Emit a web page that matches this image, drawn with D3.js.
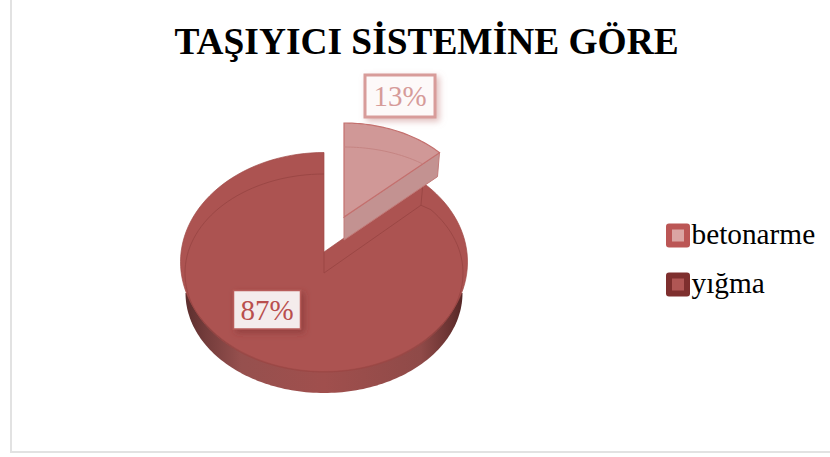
<!DOCTYPE html>
<html><head><meta charset="utf-8">
<script src="https://cdnjs.cloudflare.com/ajax/libs/d3/7.8.5/d3.min.js"></script>
<style>html,body{margin:0;padding:0;background:#fff}svg{display:block}text{font-family:"Liberation Serif",serif}</style>
</head><body><svg id="c" width="830" height="457"></svg>
<script>
const categories = ["betonarme", "yığma"];
const shares = [13, 87];
const titleText = "TAŞIYICI SİSTEMİNE GÖRE";

const svg = d3.select("#c");
const defs = svg.append("defs");

// Pie angles start at twelve o'clock and run clockwise
const arcs = d3.pie().sort(null).value(d => d)(shares);
const slice = arcs[0], body = arcs[1];

// Point on a tilted disc for a pie angle
const onDisc = (disc, a) => [disc.cx + disc.rx * Math.sin(a), disc.cy - disc.ry * Math.cos(a)];
// Samples an arc of the pie onto the tilted disc
function rim(disc, a0, a1, n = 120) {
  const t = d3.scaleLinear().domain([0, n]).range([a0, a1]);
  return d3.range(n + 1).map(i => onDisc(disc, t(i)));
}
const line = d3.line();

// Disc geometry of the big piece
const topFace = {cx: 324, cy: 262, rx: 143.5, ry: 109.5};
const bevel = {cx: 324, cy: 273, rx: 139, ry: 99};
const notchFloor = {cx: 324, cy: 273, rx: 133, ry: 99};
const underside = {cx: 324, cy: 293, rx: 138.5, ry: 100};
const backApex = [324, 252];
const notchAngle = Math.asin(99 / topFace.rx);

// Disc geometry of the pulled-out piece
const sliceFace = {cx: 344, cy: 217, rx: 131, ry: 94};
const sliceBevel = {cx: 344, cy: 227, rx: 128, ry: 80};
const sliceDepth = 23;

// Gradients and shadows
const side = defs.append("linearGradient").attr("id", "side");
[[0, "#5c2e2d"], [0.07, "#733c3b"], [0.2, "#96504e"], [0.5, "#a04f4d"], [0.85, "#8f4a48"], [0.95, "#6c3433"], [1, "#552726"]]
  .forEach(([o, c]) => side.append("stop").attr("offset", o).attr("stop-color", c));
const addShadow = (id, color, dx, dy) => {
  const f = defs.append("filter").attr("id", id).attr("x", "-30%").attr("y", "-30%").attr("width", "170%").attr("height", "170%");
  f.append("feDropShadow").attr("dx", dx).attr("dy", dy).attr("stdDeviation", 3).attr("flood-color", color).attr("flood-opacity", 0.55);
};
addShadow("sh13", "#c98a88", 3, 3);
addShadow("sh87", "#7e3231", 3, 3);

// Chart frame
svg.append("path").attr("d", "M11 -2V452H832").attr("fill", "none").attr("stroke", "#e2e2e2").attr("stroke-width", 2);

svg.append("text").attr("x", 426.5).attr("y", 54).attr("text-anchor", "middle")
  .attr("font-size", 37.4).attr("font-weight", "bold").attr("fill", "#000").text(titleText);

// Big piece: side wall first, then the top face with its notch
svg.append("path").attr("d", line(rim(underside, Math.PI / 2, Math.PI * 1.5))).attr("fill", "url(#side)");
const bodyOutline = rim(topFace, notchAngle, 2 * Math.PI).concat([backApex]);
svg.append("path").attr("d", line(bodyOutline) + "Z").attr("fill", "#ac5351").attr("stroke", "#a04a48").attr("stroke-width", 0.7);
const floorCorner = onDisc(notchFloor, body.startAngle);
svg.append("path").attr("d", line([floorCorner, ...rim(bevel, body.startAngle + 0.06, body.endAngle)]))
  .attr("fill", "none").attr("stroke", "#9b4745").attr("stroke-width", 1);
svg.append("path").attr("d", line([backApex, [bevel.cx, bevel.cy], floorCorner, onDisc(topFace, notchAngle)]))
  .attr("fill", "none").attr("stroke", "#9b4745").attr("stroke-width", 1);

// Pulled-out piece
const faceRim = rim(sliceFace, slice.startAngle, slice.endAngle, 40);
const apex = [sliceFace.cx, sliceFace.cy];
const corner = faceRim[faceRim.length - 1];
svg.append("path")
  .attr("d", line([apex, corner, [corner[0] - 2, corner[1] + sliceDepth + 1], [apex[0], apex[1] + sliceDepth]]) + "Z")
  .attr("fill", "#c39291").attr("stroke", "#c27a78").attr("stroke-width", 1);
const facePath = line([apex, ...faceRim]) + "Z";
defs.append("clipPath").attr("id", "faceClip").append("path").attr("d", facePath);
svg.append("path").attr("d", facePath).attr("fill", "#d09897").attr("stroke", "#c4706e").attr("stroke-width", 1.2);
svg.append("path").attr("d", line(rim(sliceBevel, slice.startAngle, slice.endAngle * 1.2, 40)))
  .attr("clip-path", "url(#faceClip)").attr("fill", "none").attr("stroke", "#c58583").attr("stroke-width", 1);

// Value labels in their boxes
function valueLabel(value, x, y, w, h, fill, stroke, sw, color, shadow) {
  svg.append("rect").attr("x", x).attr("y", y).attr("width", w).attr("height", h)
    .attr("fill", fill).attr("stroke", stroke).attr("stroke-width", sw).attr("filter", `url(#${shadow})`);
  svg.append("text").attr("x", x + w / 2).attr("y", y + h / 2 + 10).attr("text-anchor", "middle")
    .attr("font-size", 29).attr("fill", color).text(value + "%");
}
valueLabel(shares[0], 365, 75, 70, 42, "#fdf9f9", "#d89c9a", 3, "#d69b99", "sh13");
valueLabel(shares[1], 233.5, 290.5, 67, 38.5, "#f4ecec", "#b85c5a", 1.5, "#b94f4d", "sh87");

// Legend
const legendOuter = ["#bb5655", "#7e2f2e"];
const legendInner = ["#dba5a3", "#b05654"];
const legendY = d3.scalePoint().domain(categories).range([235.5, 284.5]);
const legend = svg.selectAll("g.key").data(categories).join("g").attr("class", "key")
  .attr("transform", d => `translate(0,${legendY(d)})`);
legend.append("rect").attr("x", 666).attr("y", -12).attr("width", 24).attr("height", 24).attr("rx", 3)
  .attr("fill", (d, i) => legendOuter[i]);
legend.append("rect").attr("x", 672).attr("y", -6).attr("width", 12).attr("height", 12)
  .attr("fill", (d, i) => legendInner[i]);
legend.append("text").attr("x", 691.5).attr("y", 8).attr("font-size", 29.3).attr("fill", "#000").text(d => d);
</script></body></html>
